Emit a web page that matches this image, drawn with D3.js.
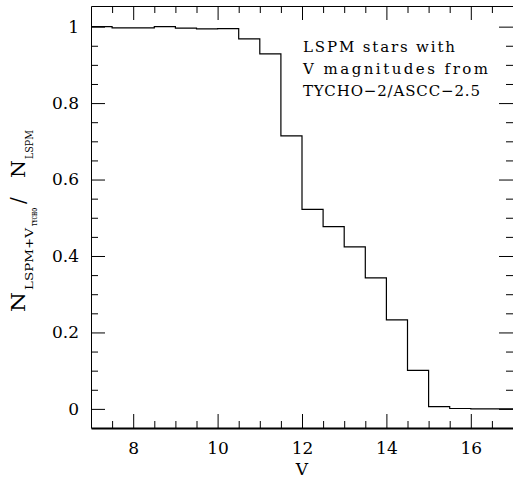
<!DOCTYPE html>
<html>
<head>
<meta charset="utf-8">
<script src="https://cdn.jsdelivr.net/npm/d3@7"></script>
<style>
  html, body { margin: 0; padding: 0; background: #fff; }
  svg { display: block; }
  .axis path, .axis line { stroke: #000; stroke-width: 1; }
  .axis text { font-family: "DejaVu Serif", serif; font-size: 17px; fill: #000; }
  .x-axis path { stroke-width: 2; }
  .note { font-family: "DejaVu Serif", serif; font-size: 15px; fill: #000; }
  .ylab { font-family: "DejaVu Serif", serif; fill: #000; }
  .hist { fill: none; stroke: #000; stroke-width: 1.2; }
</style>
</head>
<body>
<svg id="chart" width="513" height="480"></svg>
<script>
// histogram bins (left edge, V mag) and fraction in each bin
const binEdges = [7.0, 7.5, 8.0, 8.5, 9.0, 9.5, 10.0, 10.5, 11.0, 11.5,
                  12.0, 12.5, 13.0, 13.5, 14.0, 14.5, 15.0, 15.5, 16.0, 16.5, 17.0];
const fractions = [1.000, 0.997, 0.997, 1.000, 0.996, 0.994, 0.995, 0.968, 0.929, 0.714,
                   0.522, 0.477, 0.424, 0.343, 0.233, 0.101, 0.006, 0.001, 0.000, 0.000];

const xMajor = [8, 10, 12, 14, 16];
const yMajor = [0, 0.2, 0.4, 0.6, 0.8, 1];
const yTickText = ["0", "0.2", "0.4", "0.6", "0.8", "1"];

const noteLines = ["LSPM stars with", "V magnitudes from", "TYCHO-2/ASCC-2.5"];

const W = 513, H = 480;
const margin = { top: 6, right: 0, bottom: 52, left: 91 };
const innerW = W - margin.left - margin.right;
const innerH = H - margin.top - margin.bottom;

const svg = d3.select("#chart");
const g = svg.append("g").attr("transform", `translate(${margin.left},${margin.top})`);

const x = d3.scaleLinear().domain([7, 17]).range([0, innerW]);
const y = d3.scaleLinear().domain([-0.05, 1.054]).range([innerH, 0]);

const xMinor = d3.range(7.5, 17, 0.5).filter(v => !xMajor.includes(v));
const yMinor = d3.range(0.05, 1.0, 0.05).map(v => +v.toFixed(2))
  .filter(v => !yMajor.some(m => Math.abs(m - v) < 1e-6));

// bottom (labelled) + top
g.append("g").attr("class", "axis x-axis").attr("transform", `translate(0,${innerH})`)
  .call(d3.axisBottom(x).tickValues(xMajor).tickSize(-14).tickSizeOuter(0).tickPadding(14).tickFormat(d3.format("d")));
g.append("g").attr("class", "axis").attr("transform", `translate(0,${innerH})`)
  .call(d3.axisBottom(x).tickValues(xMinor).tickSize(-7).tickSizeOuter(0).tickFormat(""))
  .select(".domain").remove();
g.append("g").attr("class", "axis")
  .call(d3.axisTop(x).tickValues(xMajor).tickSize(-14).tickSizeOuter(0).tickFormat(""));
g.append("g").attr("class", "axis")
  .call(d3.axisTop(x).tickValues(xMinor).tickSize(-7).tickSizeOuter(0).tickFormat(""))
  .select(".domain").remove();

// left (labelled) + right
g.append("g").attr("class", "axis y-axis")
  .call(d3.axisLeft(y).tickValues(yMajor).tickSize(-14).tickSizeOuter(0).tickPadding(12)
    .tickFormat((d, i) => yTickText[i]));
g.append("g").attr("class", "axis")
  .call(d3.axisLeft(y).tickValues(yMinor).tickSize(-7).tickSizeOuter(0).tickFormat(""))
  .select(".domain").remove();
g.append("g").attr("class", "axis").attr("transform", `translate(${innerW},0)`)
  .call(d3.axisRight(y).tickValues(yMajor).tickSize(-14).tickSizeOuter(0).tickFormat(""));
g.append("g").attr("class", "axis").attr("transform", `translate(${innerW},0)`)
  .call(d3.axisRight(y).tickValues(yMinor).tickSize(-7).tickSizeOuter(0).tickFormat(""))
  .select(".domain").remove();

// histogram as a step line
const steps = fractions.map((f, i) => [binEdges[i], f]);
steps.push([binEdges[binEdges.length - 1], fractions[fractions.length - 1]]);
const stepLine = d3.line().x(d => x(d[0])).y(d => y(d[1])).curve(d3.curveStepAfter);
g.append("path").attr("class", "hist").attr("d", stepLine(steps));

// axis titles
svg.append("text").attr("class", "ylab")
  .attr("x", margin.left + x(12)).attr("y", 475)
  .attr("text-anchor", "middle").style("font-size", "17px").text("V");

// y title, drawn bottom-to-top; pieces placed along the rotated baseline
const yl = svg.append("g").attr("transform", "translate(25,312) rotate(-90)");
const ylParts = [
  { t: "N",      at: 0,   dy: 0,    size: 18,  len: 20 },
  { t: "LSPM+V", at: 22,  dy: 8,    size: 11.5, len: 62 },
  { t: "TYCHO",  at: 86,  dy: 11.5, size: 8,   len: 18, bold: true },
  { t: "/",      at: 108, dy: 0,    size: 20,  len: 0 },
  { t: "N",      at: 134, dy: 0,    size: 18,  len: 18 },
  { t: "LSPM",   at: 153, dy: 8,    size: 11.5, len: 29 }
];
ylParts.forEach(p => {
  const t = yl.append("text").attr("class", "ylab")
    .attr("x", p.at).attr("y", p.dy)
    .style("font-size", p.size + "px")
    .style("font-weight", p.bold ? "bold" : "normal")
    .text(p.t);
  if (p.len) t.attr("textLength", p.len).attr("lengthAdjust", "spacingAndGlyphs");
});

// annotation
const noteWidths = [152, 185, 177];
svg.selectAll("text.note").data(noteLines).join("text")
  .attr("class", "note")
  .attr("x", 303)
  .attr("y", (d, i) => 52 + i * 22)
  .attr("textLength", (d, i) => noteWidths[i])
  .attr("lengthAdjust", "spacing")
  .text(d => d.replace(/-/g, "\u2212"));
</script>
</body>
</html>
